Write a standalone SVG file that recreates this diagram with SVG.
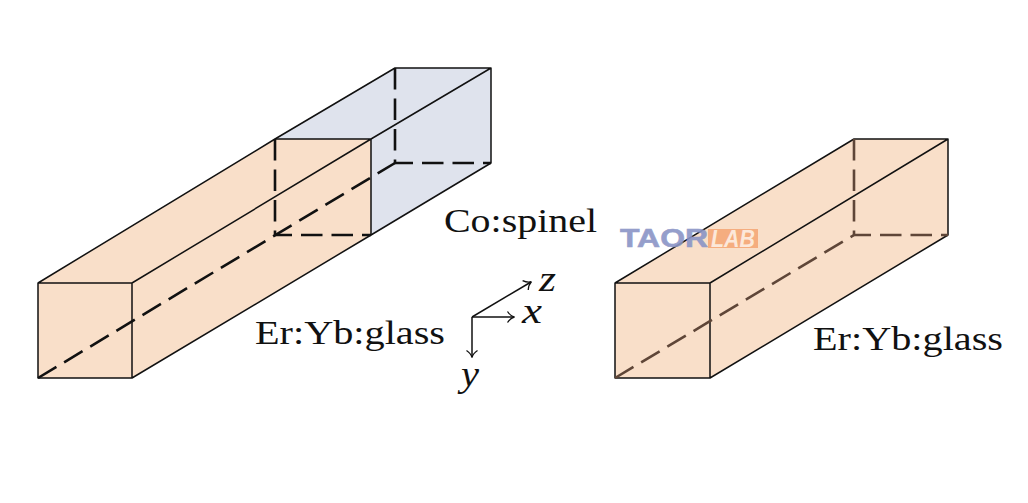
<svg xmlns="http://www.w3.org/2000/svg" width="1028" height="503" viewBox="0 0 1028 503">
<style>
text{font-family:"Liberation Serif","Times New Roman",serif;font-size:33.500px;fill:#111}
.i{font-style:italic;font-size:35px}
.e{stroke:#111;stroke-width:1.5;fill:none;stroke-linejoin:round}
.d{stroke:#111;stroke-width:2.6;fill:none;stroke-dasharray:21.500 9}
.t{stroke:#5f4638;stroke-width:2.6;fill:none;stroke-dasharray:21.500 9}
.o{fill:#f9dfc9}
.b{fill:#dfe3ed}
</style>
<defs><marker id="a" markerWidth="14" markerHeight="14" refX="10" refY="7" orient="auto" markerUnits="userSpaceOnUse"><path d="M3.500 1.500Q6.500 6 10.500 7Q6.500 8 3.500 12.500" fill="none" stroke="#111" stroke-width="1.300"/></marker></defs>
<g id="cospinel-box">
<path class="b" d="M275 139L395 68H491V163L371 235V139Z"/>
<path class="e" d="M275 139L395 68H491V163L371 235M371 139L491 68"/>
</g>
<g id="left-glass-box">
<path class="o" d="M38 283L275 139H371V235L132 378H38Z"/>
<path class="e" d="M38 283H132V378H38ZM38 283L275 139H371V235L132 378M132 283L371 139"/>
</g>
<g id="right-glass-box">
<path class="o" d="M615 283L854 139H948V235L710 378H615Z"/>
<path class="e" d="M615 283H710V378H615ZM615 283L854 139H948V235L710 378M710 283L948 139"/>
</g>
<g id="connectors">
<path class="d" d="M38 378L395 163"/>
<path class="d" d="M395 68V163H491"/>
<path class="d" d="M275 139V235H371"/>
<path class="t" d="M615 378L854 235"/>
<path class="t" d="M854 139V235H948"/>
<path class="e" marker-end="url(#a)" d="M472 317L531 282"/>
<path class="e" marker-end="url(#a)" d="M472 317H514"/>
<path class="e" marker-end="url(#a)" d="M472 317V357"/>
</g>
<g id="labels">
<text x="444" y="232" textLength="153" lengthAdjust="spacingAndGlyphs">Co:spinel</text>
<text x="255" y="344" textLength="190" lengthAdjust="spacingAndGlyphs">Er:Yb:glass</text>
<text x="813" y="350" textLength="190" lengthAdjust="spacingAndGlyphs">Er:Yb:glass</text>
<text class="i" x="539" y="291" textLength="17" lengthAdjust="spacingAndGlyphs">z</text>
<text class="i" x="522" y="323" textLength="20" lengthAdjust="spacingAndGlyphs">x</text>
<text class="i" x="461" y="386" textLength="18" lengthAdjust="spacingAndGlyphs">y</text>
</g>
<g id="watermark" opacity="0.9">
<text x="620" y="247" textLength="88" lengthAdjust="spacingAndGlyphs" style="font-family:'Liberation Sans',sans-serif;font-weight:700;font-size:26px;fill:#8a94c6;stroke:#8a94c6;stroke-width:.6">TAOR</text>
<rect x="708" y="229" width="50" height="19" fill="#f5a878"/>
<text x="711" y="247" textLength="44" lengthAdjust="spacingAndGlyphs" style="font-family:'Liberation Sans',sans-serif;font-weight:700;font-style:italic;font-size:24px;fill:#fdeadc">LAB</text>
</g>
</svg>
